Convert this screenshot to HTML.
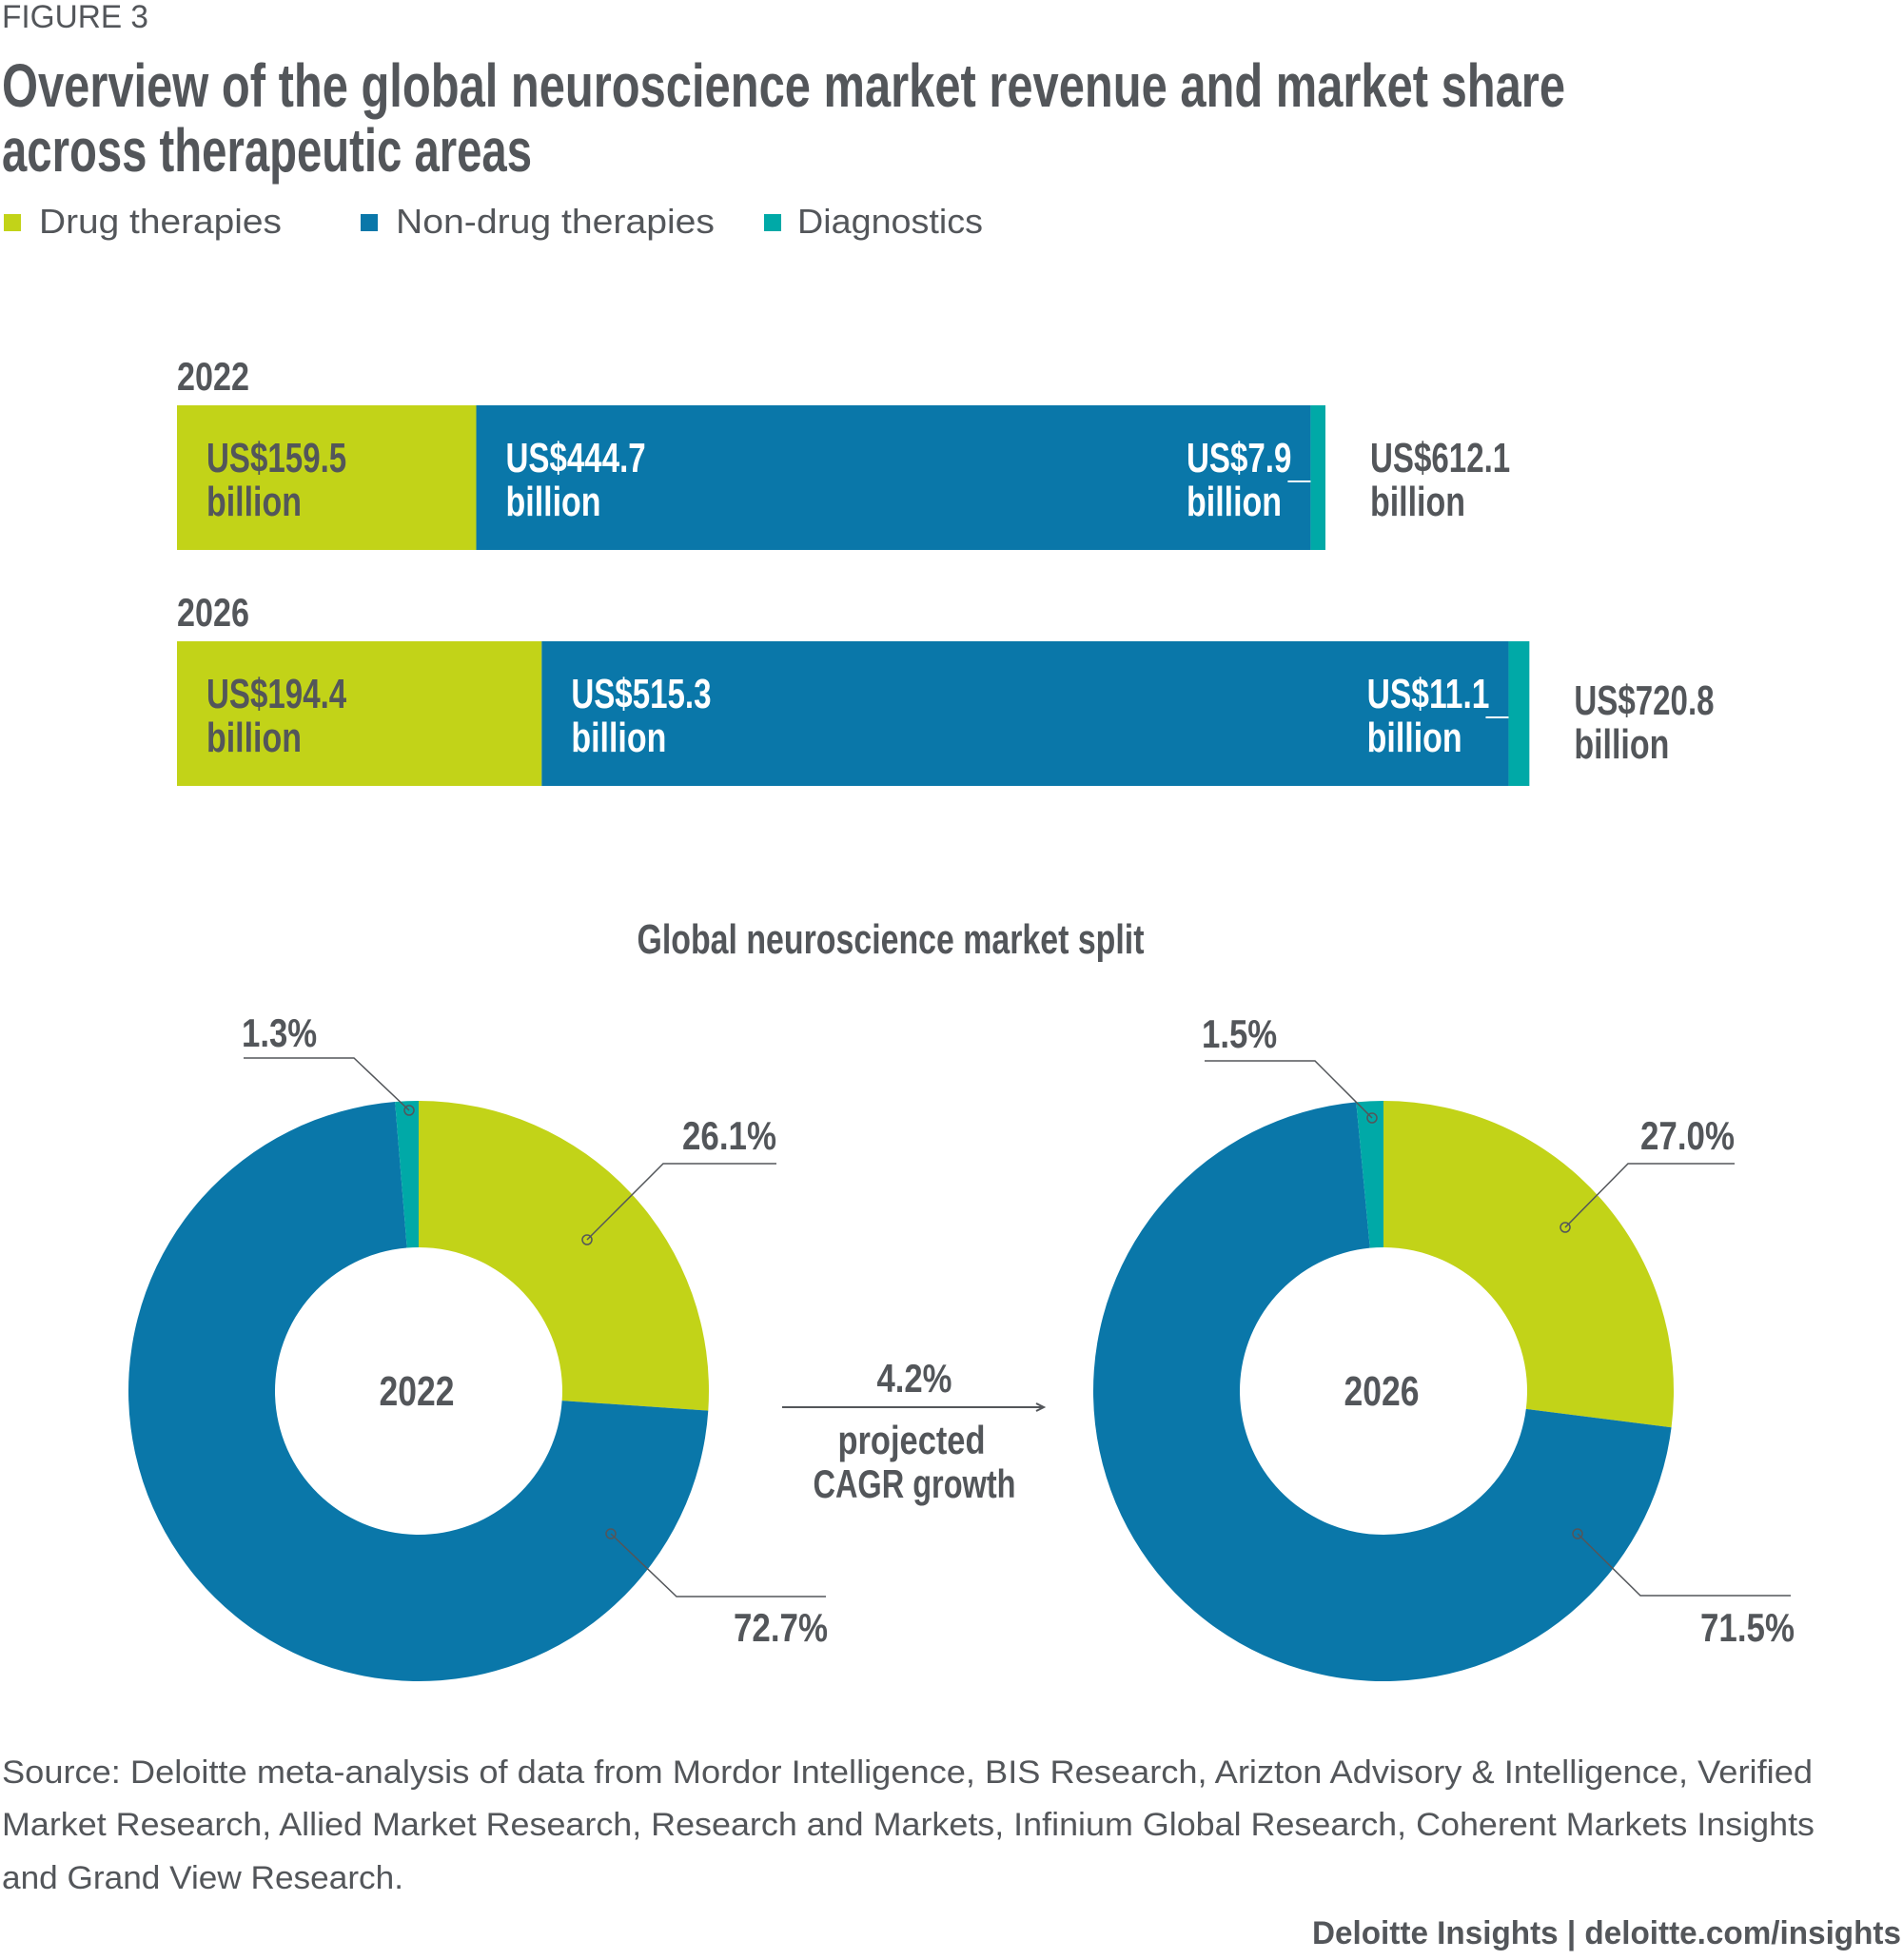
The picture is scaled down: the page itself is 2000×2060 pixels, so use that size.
<!DOCTYPE html>
<html><head><meta charset="utf-8"><style>
html,body{margin:0;padding:0;background:#fff;}
svg{display:block;}
.c{font-family:"Liberation Sans Narrow","Liberation Sans",sans-serif;font-weight:bold;fill:#53565a;}
.r{font-family:"Liberation Sans",sans-serif;fill:#53565a;}
</style></head><body>
<svg id="chart" width="2000" height="2060" viewBox="0 0 2000 2060" xmlns="http://www.w3.org/2000/svg">
<text class="r" x="2" y="29" font-size="34" fill="#6b6b6b" textLength="154" lengthAdjust="spacingAndGlyphs">FIGURE 3</text>
<text class="c" x="2" y="112" font-size="64" textLength="1643" lengthAdjust="spacingAndGlyphs">Overview of the global neuroscience market revenue and market share</text>
<text class="c" x="2" y="180" font-size="64" textLength="557" lengthAdjust="spacingAndGlyphs">across therapeutic areas</text>
<g>
<rect x="4" y="225" width="18" height="18" fill="#c2d318"/>
<text class="r" x="41" y="245" font-size="36" textLength="255" lengthAdjust="spacingAndGlyphs">Drug therapies</text>
<rect x="379" y="225" width="18" height="18" fill="#0a77a9"/>
<text class="r" x="416" y="245" font-size="36" textLength="335" lengthAdjust="spacingAndGlyphs">Non-drug therapies</text>
<rect x="803" y="225" width="18" height="18" fill="#00a9a7"/>
<text class="r" x="838" y="245" font-size="36" textLength="195" lengthAdjust="spacingAndGlyphs">Diagnostics</text>
</g>
<g id="bars"></g>
<text class="c" x="936" y="1002" font-size="44" text-anchor="middle" textLength="533" lengthAdjust="spacingAndGlyphs">Global neuroscience market split</text>
<g id="donuts"></g>
<g>
<text class="c" x="961" y="1463" font-size="42" text-anchor="middle" textLength="79" lengthAdjust="spacingAndGlyphs">4.2%</text>
<line x1="822" y1="1479" x2="1095" y2="1479" stroke="#53565a" stroke-width="2"/>
<path d="M1089,1475 L1097,1479 L1089,1483" fill="none" stroke="#53565a" stroke-width="2"/>
<text class="c" x="958" y="1528" font-size="42" text-anchor="middle" textLength="155" lengthAdjust="spacingAndGlyphs">projected</text>
<text class="c" x="961" y="1574" font-size="42" text-anchor="middle" textLength="213" lengthAdjust="spacingAndGlyphs">CAGR growth</text>
</g>
<g fill="#6b6b6b">
<text class="r" x="2" y="1874" font-size="34" fill="#6b6b6b" textLength="1903" lengthAdjust="spacingAndGlyphs">Source: Deloitte meta-analysis of data from Mordor Intelligence, BIS Research, Arizton Advisory &amp; Intelligence, Verified</text>
<text class="r" x="2" y="1929" font-size="34" fill="#6b6b6b" textLength="1905" lengthAdjust="spacingAndGlyphs">Market Research, Allied Market Research, Research and Markets, Infinium Global Research, Coherent Markets Insights</text>
<text class="r" x="2" y="1985" font-size="34" fill="#6b6b6b" textLength="422" lengthAdjust="spacingAndGlyphs">and Grand View Research.</text>
</g>
<text class="r" x="1998" y="2043" font-size="34" text-anchor="end" font-weight="bold" fill="#6b6b6b" textLength="619" lengthAdjust="spacingAndGlyphs">Deloitte Insights | deloitte.com/insights</text>
</svg>
<script>
const years = ["2022", "2026"];
const drugValues = [159.5, 194.4];
const nonDrugValues = [444.7, 515.3];
const diagValues = [7.9, 11.1];
const totalValues = [612.1, 720.8];
const drugShares = [26.1, 27.0];
const nonDrugShares = [72.7, 71.5];
const diagShares = [1.3, 1.5];

const NS = "http://www.w3.org/2000/svg";
const colors = ["#c2d318", "#0a77a9", "#00a9a7"];
function mk(tag, attrs, parent) {
  const e = document.createElementNS(NS, tag);
  for (const k in attrs) e.setAttribute(k, attrs[k]);
  parent.appendChild(e);
  return e;
}
const x0 = 186, pxPerUnit = 1207 / 612.1;
const xs = v => x0 + v * pxPerUnit;
const barTops = [426, 674], barH = 152;
const bars = document.getElementById("bars");
years.forEach((yr, i) => {
  const top = barTops[i];
  const yl = mk("text", {class: "c", x: 186, y: top - 16, "font-size": 42, textLength: 76, lengthAdjust: "spacingAndGlyphs"}, bars);
  yl.textContent = yr;
  
  
  const vals = [drugValues[i], nonDrugValues[i], diagValues[i]];
  let acc = 0;
  vals.forEach((v, j) => {
    const r = mk("rect", {x: xs(acc), y: top, width: xs(acc + v) - xs(acc), height: barH, fill: colors[j]}, bars);
    
    
    acc += v;
  });
  const b1 = top + 70, b2 = top + 116;
  const lab = (x, txt, fill, ya, yb) => {
    const t1 = mk("text", {class: "c", x: x, y: ya, "font-size": 44, style: "fill:" + fill, textLength: (txt.length * 18.4).toFixed(1), lengthAdjust: "spacingAndGlyphs"}, bars);
    t1.textContent = txt;
    
    
    const t2 = mk("text", {class: "c", x: x, y: yb, "font-size": 44, style: "fill:" + fill, textLength: 100, lengthAdjust: "spacingAndGlyphs"}, bars);
    t2.textContent = "billion";
    
    
  };
  lab(xs(0) + 31, "US$" + drugValues[i].toFixed(1), "#53565a", b1, b2);
  lab(xs(drugValues[i]) + 31, "US$" + nonDrugValues[i].toFixed(1), "#ffffff", b1, b2);
  const dx = xs(drugValues[i] + nonDrugValues[i]);
  const dtxt = "US$" + diagValues[i].toFixed(1);
  lab(dx - 20 - dtxt.length * 18.4, dtxt, "#ffffff", b1, b2);
  const ln = mk("line", {x1: dx - 24, x2: dx, y1: top + 80, y2: top + 80, stroke: "#ffffff", "stroke-width": 2}, bars);
  
  
  lab(xs(totalValues[i]) + 47, "US$" + totalValues[i].toFixed(1), "#53565a", b1 + (i ? 7 : 0), b2 + (i ? 7 : 0));
});
const donuts = document.getElementById("donuts");
const centers = [[440, 1462], [1454, 1462]];
const R = 305, r0 = 151;
const ang = p => p / 100 * 2 * Math.PI;
const pt = (cx, cy, rad, a) => [cx + rad * Math.sin(a), cy - rad * Math.cos(a)];
const leaders = [
  [[[256,1112],[372,1112],[430,1167]], [[816,1223],[697,1223],[617,1303]], [[868,1678],[711,1678],[642,1612]]],
  [[[1266,1115],[1382,1115],[1442,1175]], [[1823,1223],[1711,1223],[1645,1290]], [[1882,1677],[1724,1677],[1658,1612]]]
];
const labelPos = [
  [[254,1100,"start"], [816,1208,"end"], [870,1725,"end"]],
  [[1263,1101,"start"], [1823,1208,"end"], [1886,1725,"end"]]
];
years.forEach((yr, i) => {
  const [cx, cy] = centers[i];
  const shares = [drugShares[i], nonDrugShares[i], diagShares[i]];
  const tot = shares.reduce((a, b) => a + b, 0);
  let acc = 0;
  shares.forEach((s, j) => {
    const a0 = ang(acc / tot * 100), a1 = ang((acc + s) / tot * 100);
    const large = (a1 - a0) > Math.PI ? 1 : 0;
    const p0 = pt(cx, cy, R, a0), p1 = pt(cx, cy, R, a1), q1 = pt(cx, cy, r0, a1), q0 = pt(cx, cy, r0, a0);
    const d = `M${p0[0]},${p0[1]} A${R},${R} 0 ${large} 1 ${p1[0]},${p1[1]} L${q1[0]},${q1[1]} A${r0},${r0} 0 ${large} 0 ${q0[0]},${q0[1]} Z`;
    const p = mk("path", {d: d, fill: colors[j]}, donuts);
    
    
    acc += s;
  });
  const ct = mk("text", {class: "c", x: cx - 2, y: cy + 15, "font-size": 44, "text-anchor": "middle", textLength: 79, lengthAdjust: "spacingAndGlyphs"}, donuts);
  ct.textContent = yr;
  
  
  const order = [2, 0, 1];
  order.forEach((j, k) => {
    const L = leaders[i][k];
    const pl = mk("polyline", {points: L.map(p => p.join(",")).join(" "), fill: "none", stroke: "#53565a", "stroke-width": 1.5}, donuts);
    
    
    const c = mk("circle", {cx: L[2][0], cy: L[2][1], r: 5, fill: "none", stroke: "#53565a", "stroke-width": 1.5}, donuts);
    
    
    const lp = labelPos[i][k];
    const txt = shares[j].toFixed(1) + "%";
    const t = mk("text", {class: "c", x: lp[0], y: lp[1], "font-size": 42, "text-anchor": lp[2], textLength: (txt.length * 19.8).toFixed(1), lengthAdjust: "spacingAndGlyphs"}, donuts);
    t.textContent = txt;
    
    
  });
});
</script>
</body></html>
